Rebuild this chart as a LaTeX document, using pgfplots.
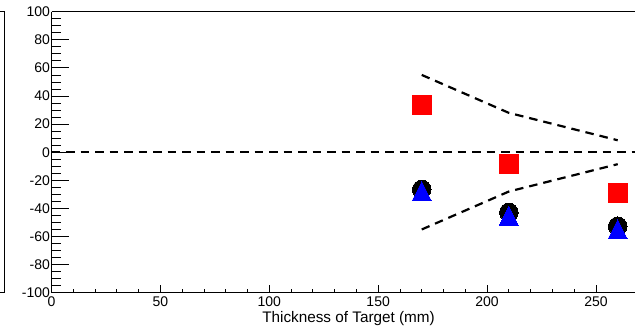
\documentclass[border=0pt]{standalone}
\usepackage{pgfplots}
\pgfplotsset{compat=1.18}
\usepackage{fontspec}
\setmainfont{Liberation Sans}
\pgfdeclareplotmark{rtri}{%
  \pgfpathmoveto{\pgfqpoint{-\pgfplotmarksize}{-\pgfplotmarksize}}%
  \pgfpathlineto{\pgfqpoint{\pgfplotmarksize}{-\pgfplotmarksize}}%
  \pgfpathlineto{\pgfqpoint{0pt}{\pgfplotmarksize}}%
  \pgfpathclose
  \pgfusepathqfillstroke}
\begin{document}
\begin{tikzpicture}[x=1pt,y=1pt]
\path[use as bounding box] (0,0) rectangle (635,327);
\draw[line width=1pt] (0,315.5) -- (4,315.5) -- (4,34.5) -- (0,34.5);
\begin{axis}[
  at={(51.5pt,34.3pt)}, anchor=south west,
  scale only axis, width=588pt, height=281pt,
  xmin=0, xmax=270, ymin=-100, ymax=100,
  axis x line*=bottom, axis y line*=left,
  axis line style={line width=1pt,-},
  clip=false,
  xtick={0,50,...,250}, ytick={-100,-80,...,100},
  minor x tick num=4, minor y tick num=3,
  tick align=inside,
  xtick style={black, line width=0.8pt, /pgfplots/major tick length=8pt, /pgfplots/minor tick length=4pt},
  ytick style={black, line width=0.8pt, /pgfplots/major tick length=17pt, /pgfplots/minor tick length=9pt},
  tick label style={font=\fontsize{14}{16}\selectfont},
  yticklabel style={xshift=2pt},
  /pgf/number format/assume math mode=true,
]
\addplot[black, line width=2.2pt, dash pattern=on 8.5pt off 6pt] coordinates {(0,0) (270,0)};
\addplot[black, line width=2.2pt, dash pattern=on 8.5pt off 6pt] coordinates {(170,55) (210,28) (260,8.5)};
\addplot[black, line width=2.2pt, dash pattern=on 8.5pt off 6pt] coordinates {(170,-55) (210,-28) (260,-8.5)};
\addplot[only marks, mark=square*, mark size=9.5pt, mark options={fill=red, draw=red, line width=0pt}] coordinates {(170,33.6) (210,-8.4) (260,-29.3)};
\addplot[only marks, mark=*, mark size=9.3pt, mark options={fill=black, draw=black, line width=0pt}] coordinates {(170,-26.5) (210,-42.8) (260,-52.7)};
\addplot[only marks, mark=rtri, mark size=9.6pt, mark options={fill=blue, draw=blue, line width=0pt}] coordinates {(170,-27.8) (210,-45.3) (260,-54.9)};
\draw[line width=1pt] (rel axis cs:0,1) -- (rel axis cs:1,1);
\node[anchor=base, font=\fontsize{15.3}{17}\selectfont] at (axis cs:136.4,-100) [yshift=-30pt] {Thickness of Target (mm)};
\end{axis}
\end{tikzpicture}
\end{document}
